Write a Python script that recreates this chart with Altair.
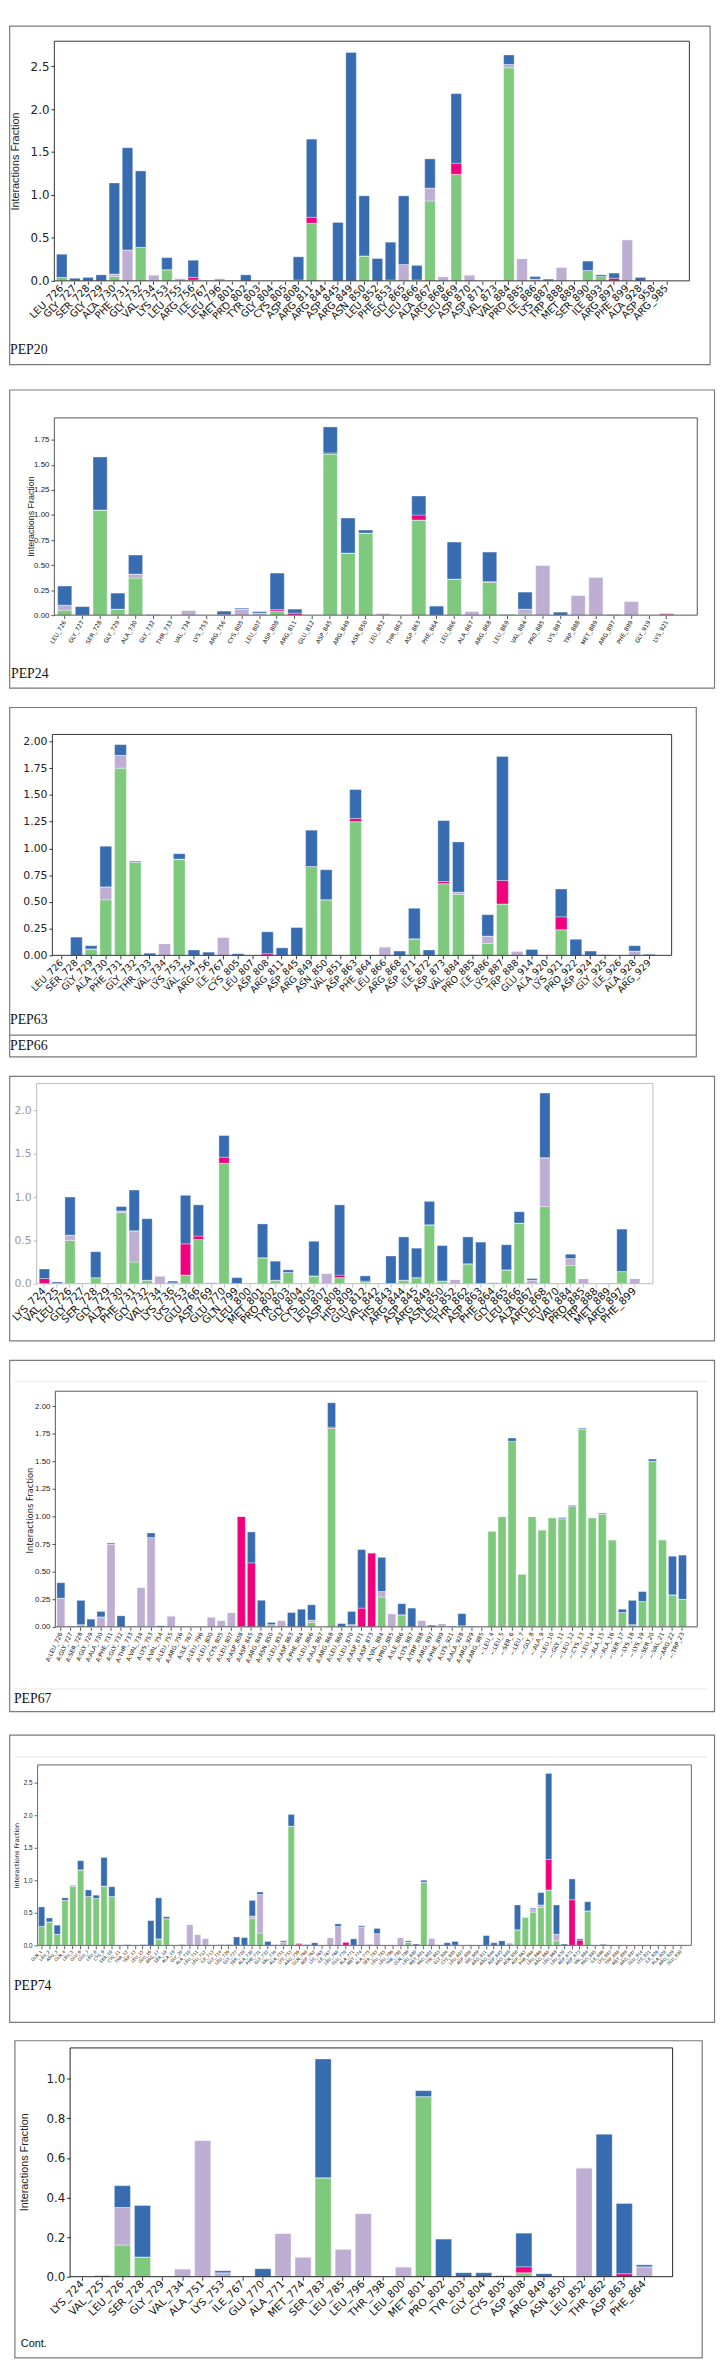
import altair as alt
import pandas as pd

# -----------------------------
# DATA (segment heights per interaction type)
# hb = H-bonds, hyd = hydrophobic, ion = ionic, wat = water bridges
# -----------------------------
pep20_res = ["LEU_726", "GLY_727", "SER_728", "GLY_729", "ALA_730", "PHE_731", "GLY_732", "VAL_734",
             "LYS_753", "LEU_755", "ARG_756", "ILE_767", "LEU_796", "MET_801", "PRO_802", "TYR_803",
             "GLY_804", "CYS_805", "ASP_808", "ARG_811", "ARG_844", "ASP_845", "ARG_849", "ASN_850",
             "LEU_852", "PHE_853", "GLY_865", "LEU_866", "ALA_867", "ARG_868", "LEU_869", "ASP_870",
             "ASP_871", "VAL_873", "VAL_884", "PRO_885", "ILE_886", "LYS_887", "TRP_888", "MET_889",
             "SER_890", "ILE_893", "ARG_897", "PHE_899", "ALA_928", "ASP_958", "ARG_985"]
pep20_hb = [0.04, 0, 0, 0, 0.05, 0, 0.39, 0, 0.13, 0, 0.01, 0, 0, 0, 0, 0, 0, 0, 0.01, 0.67, 0, 0, 0,
            0.29, 0, 0.01, 0, 0.01, 0.93, 0, 1.24, 0, 0, 0, 2.48, 0, 0, 0, 0, 0, 0.12, 0.05, 0, 0, 0, 0, 0]
pep20_hyd = [0, 0, 0, 0, 0.03, 0.36, 0, 0.07, 0, 0.03, 0, 0, 0.03, 0.01, 0, 0, 0, 0, 0, 0, 0, 0, 0,
             0, 0, 0, 0.19, 0, 0.15, 0.05, 0, 0.07, 0, 0, 0.04, 0.26, 0.02, 0, 0.16, 0.01, 0, 0, 0, 0.48, 0, 0, 0]
pep20_ion = [0, 0, 0, 0, 0, 0, 0, 0, 0, 0, 0.03, 0, 0, 0, 0, 0, 0, 0, 0, 0.07, 0, 0, 0,
             0, 0, 0, 0, 0, 0, 0, 0.13, 0, 0, 0, 0, 0, 0, 0, 0, 0, 0, 0, 0.03, 0, 0, 0, 0]
pep20_wat = [0.27, 0.03, 0.04, 0.07, 1.06, 1.19, 0.89, 0, 0.14, 0, 0.20, 0, 0, 0, 0.07, 0, 0, 0, 0.27,
             0.91, 0, 0.68, 2.66, 0.70, 0.26, 0.44, 0.80, 0.17, 0.34, 0, 0.81, 0, 0, 0, 0.11, 0, 0.03,
             0.02, 0, 0, 0.11, 0.02, 0.06, 0, 0.04, 0, 0]

pep24_res = ["LEU_726", "GLY_727", "SER_728", "GLY_729", "ALA_730", "GLY_732", "THR_733", "VAL_734",
             "LYS_753", "ARG_756", "CYS_805", "LEU_807", "ASP_808", "ARG_811", "GLU_812", "ASP_845",
             "ARG_849", "ASN_850", "LEU_852", "THR_862", "ASP_863", "PHE_864", "LEU_866", "ALA_867",
             "ARG_868", "LEU_869", "VAL_884", "PRO_885", "LYS_887", "TRP_888", "MET_889", "ARG_897",
             "PHE_899", "GLY_919", "LYS_921"]
pep24_hb = [0.05, 0, 1.05, 0.06, 0.37, 0, 0, 0, 0, 0, 0, 0, 0.04, 0, 0, 1.61, 0.62, 0.82, 0, 0, 0.95,
            0, 0.36, 0, 0.33, 0, 0.01, 0, 0, 0, 0, 0, 0, 0, 0]
pep24_hyd = [0.05, 0, 0, 0, 0.04, 0, 0, 0.05, 0, 0, 0.06, 0.02, 0, 0, 0, 0, 0, 0, 0.02, 0, 0,
             0, 0, 0.04, 0, 0, 0.05, 0.50, 0, 0.20, 0.38, 0, 0.14, 0, 0]
pep24_ion = [0, 0, 0, 0, 0, 0, 0, 0, 0, 0.005, 0, 0, 0.015, 0.02, 0, 0.01, 0, 0, 0, 0, 0.05,
             0, 0, 0, 0.005, 0, 0, 0, 0, 0, 0, 0, 0, 0, 0.01]
pep24_wat = [0.19, 0.085, 0.53, 0.16, 0.19, 0.005, 0, 0, 0, 0.035, 0.01, 0.015, 0.365, 0.04, 0, 0.26,
             0.35, 0.03, 0, 0, 0.19, 0.09, 0.37, 0, 0.295, 0.005, 0.17, 0, 0.03, 0, 0, 0.005, 0, 0, 0.005]

pep63_res = ["LEU_726", "SER_728", "GLY_729", "ALA_730", "PHE_731", "GLY_732", "THR_733", "VAL_734",
             "LYS_753", "VAL_754", "ARG_756", "ILE_767", "CYS_805", "LEU_807", "ASP_808", "ARG_811",
             "ASP_845", "ARG_849", "ASN_850", "VAL_851", "ASP_863", "PHE_864", "LEU_866", "ARG_868",
             "ASP_871", "ILE_872", "ASP_873", "VAL_884", "PRO_885", "ILE_886", "LYS_887", "TRP_888",
             "GLU_914", "ALA_920", "LYS_921", "PRO_922", "ASP_924", "GLY_925", "ILE_926", "ALA_928",
             "ARG_929"]
pep63_hb = [0, 0, 0.06, 0.52, 1.75, 0.87, 0, 0, 0.90, 0, 0, 0, 0, 0, 0, 0, 0, 0.83, 0.52, 0, 1.25,
            0, 0, 0, 0.15, 0, 0.67, 0.57, 0, 0.11, 0.48, 0, 0, 0, 0.24, 0, 0, 0, 0, 0, 0]
pep63_hyd = [0, 0, 0, 0.12, 0.12, 0, 0, 0.11, 0, 0, 0, 0.17, 0, 0, 0, 0, 0, 0, 0, 0, 0,
             0, 0.08, 0, 0, 0, 0, 0.02, 0, 0.07, 0, 0.04, 0, 0, 0, 0, 0, 0, 0, 0.04, 0]
pep63_ion = [0, 0, 0, 0, 0, 0, 0, 0, 0, 0, 0, 0, 0, 0, 0.015, 0, 0, 0, 0, 0, 0.03,
             0, 0, 0, 0.005, 0, 0.02, 0, 0, 0, 0.22, 0, 0, 0, 0.12, 0, 0, 0, 0, 0, 0]
pep63_wat = [0, 0.17, 0.03, 0.38, 0.10, 0.01, 0.02, 0, 0.05, 0.05, 0.03, 0, 0.015, 0, 0.205, 0.07,
             0.26, 0.34, 0.28, 0, 0.27, 0, 0, 0.04, 0.285, 0.05, 0.57, 0.47, 0.005, 0.20, 1.16, 0,
             0.055, 0, 0.26, 0.15, 0.04, 0.005, 0, 0.05, 0.01]

pep66_res = ["LYS_724", "VAL_725", "LEU_726", "GLY_727", "SER_728", "GLY_729", "ALA_730", "PHE_731",
             "GLY_732", "VAL_734", "LYS_736", "LYS_753", "GLU_766", "ASP_769", "GLU_770", "GLN_799",
             "LEU_800", "MET_801", "PRO_802", "TYR_803", "GLY_804", "CYS_805", "LEU_807", "ASP_808",
             "HIS_809", "GLU_812", "VAL_842", "HIS_843", "ARG_844", "ASP_845", "ARG_849", "ASN_850",
             "LEU_852", "THR_862", "ASP_863", "PHE_864", "GLY_865", "LEU_866", "ALA_867", "ARG_868",
             "LEU_870", "VAL_884", "PRO_885", "TRP_888", "MET_889", "ARG_897", "PHE_899"]
pep66_hb = [0, 0, 0.50, 0, 0.07, 0, 0.82, 0.25, 0.04, 0, 0, 0.10, 0.51, 0, 1.39, 0, 0, 0.30, 0.04,
            0.13, 0, 0.09, 0, 0.07, 0, 0.02, 0, 0, 0.04, 0.07, 0.68, 0.03, 0, 0.23, 0, 0, 0.16, 0.70,
            0, 0.89, 0, 0.21, 0, 0, 0, 0.14, 0]
pep66_hyd = [0, 0, 0.06, 0, 0, 0, 0.02, 0.36, 0, 0.09, 0, 0, 0, 0, 0, 0, 0, 0, 0, 0, 0, 0, 0.12, 0,
             0, 0, 0, 0, 0, 0, 0, 0, 0.05, 0, 0, 0, 0, 0, 0.04, 0.56, 0.01, 0.08, 0.06, 0, 0, 0, 0.06]
pep66_ion = [0.06, 0, 0, 0, 0, 0, 0, 0, 0, 0, 0.01, 0.36, 0.04, 0, 0.07, 0, 0, 0, 0, 0, 0, 0, 0, 0.03,
             0, 0.01, 0, 0, 0, 0, 0, 0, 0, 0, 0, 0, 0, 0, 0, 0.005, 0, 0, 0, 0, 0, 0, 0]
pep66_wat = [0.11, 0.02, 0.44, 0.005, 0.30, 0.005, 0.05, 0.47, 0.71, 0, 0.02, 0.56, 0.36, 0.01, 0.25,
             0.07, 0.005, 0.39, 0.22, 0.03, 0, 0.40, 0, 0.81, 0, 0.06, 0.005, 0.32, 0.50, 0.34, 0.27,
             0.41, 0, 0.31, 0.48, 0.01, 0.29, 0.13, 0.02, 0.745, 0, 0.05, 0, 0, 0.005, 0.49, 0]

pep67_res = ["A:LEU_726", "A:GLY_727", "A:SER_728", "A:GLY_729", "A:ALA_730", "A:PHE_731", "A:GLY_732",
             "A:THR_733", "A:VAL_734", "A:LYS_753", "A:VAL_754", "A:LEU_755", "A:ARG_756", "A:ILE_767",
             "A:LEU_796", "A:LEU_800", "A:CYS_805", "A:LEU_807", "A:ASP_808", "A:ASP_845", "A:ARG_849",
             "A:ASN_850", "A:LEU_852", "A:ASP_863", "A:PHE_864", "A:LEU_866", "A:ALA_867", "A:ARG_868",
             "A:LEU_869", "A:LEU_870", "A:ASP_871", "A:ASP_873", "A:VAL_884", "A:PRO_885", "A:ILE_886",
             "A:LYS_887", "A:TRP_888", "A:ARG_897", "A:PHE_899", "A:LYS_921", "A:ALA_928", "A:ARG_929",
             "A:ARG_985", "~:LEU_4", "~:LEU_5", "~:SER_6", "~:LEU_7", "~:GLY_8", "~:ALA_9", "~:LEU_10",
             "~:GLY_11", "~:LEU_12", "~:CYS_13", "~:LEU_14", "~:ALA_15", "~:ALA_16", "~:SER_17",
             "~:LYS_18", "~:LYS_19", "~:SER_20", "~:VAL_21", "~:ARG_22", "~:TRP_23"]
pep67_hb = [0, 0, 0.02, 0, 0, 0, 0, 0, 0, 0, 0, 0, 0, 0, 0, 0, 0, 0, 0, 0, 0, 0.02, 0, 0, 0, 0.04, 0,
            1.80, 0, 0, 0, 0, 0.27, 0, 0.11, 0, 0, 0, 0, 0, 0.01, 0, 0, 0.87, 1.00, 1.68, 0.48, 1.00,
            0.88, 0.99, 0.98, 1.09, 1.79, 0.99, 1.02, 0.79, 0.13, 0.02, 0.23, 1.50, 0.79, 0.29, 0.25]
pep67_hyd = [0.26, 0, 0, 0, 0.09, 0.75, 0, 0, 0.36, 0.81, 0, 0.10, 0, 0.003, 0.003, 0.09, 0.06, 0.13,
             0, 0, 0, 0, 0.06, 0, 0, 0.02, 0, 0, 0, 0.02, 0, 0, 0.05, 0.12, 0, 0, 0.06, 0, 0.03, 0, 0,
             0, 0, 0, 0, 0, 0, 0, 0, 0, 0, 0, 0, 0, 0, 0, 0, 0, 0, 0, 0, 0, 0]
pep67_ion = [0, 0, 0, 0, 0, 0, 0, 0, 0, 0, 0, 0, 0.005, 0, 0, 0, 0, 0, 1.00, 0.58, 0, 0, 0, 0, 0, 0, 0,
             0.01, 0, 0, 0.17, 0.67, 0, 0, 0, 0, 0, 0, 0, 0, 0, 0, 0, 0, 0, 0, 0, 0, 0, 0, 0, 0, 0, 0,
             0, 0, 0, 0, 0, 0, 0, 0, 0]
pep67_wat = [0.14, 0.005, 0.22, 0.07, 0.05, 0.01, 0.10, 0.005, 0, 0.04, 0.01, 0, 0, 0, 0, 0, 0, 0, 0,
             0.28, 0.24, 0.02, 0, 0.13, 0.16, 0.14, 0, 0.22, 0.03, 0.12, 0.53, 0, 0.31, 0, 0.10, 0.17,
             0, 0.015, 0, 0.005, 0.11, 0.005, 0, 0, 0, 0.03, 0, 0, 0, 0, 0.01, 0.01, 0.01, 0, 0.01, 0,
             0.03, 0.22, 0.09, 0.02, 0, 0.35, 0.40]

pep74_res = ["GLN_1", "LEU_2", "ARG_3", "GLN_4", "LEU_5", "GLU_6", "GLU_7", "LEU_8", "CYS_9", "SER_10",
             "CYS_11", "THR_12", "TRP_13", "LEU_15", "GLU_16", "ARG_17", "SER_18", "ALA_19", "GLY_20",
             "ALA_710", "LEU_711", "LEU_712", "ILE_713", "GLY_714", "LEU_726", "GLY_727", "SER_728",
             "ALA_730", "PHE_731", "GLY_732", "VAL_734", "ALA_751", "LYS_753", "ARG_756", "GLN_760",
             "ASP_762", "LYS_765", "ILE_767", "LEU_768", "GLU_770", "ALA_771", "MET_774", "ALA_775",
             "SER_783", "LEU_785", "LEU_796", "THR_798", "GLN_799", "LEU_800", "MET_801", "PRO_802",
             "TYR_803", "GLY_804", "CYS_805", "LEU_807", "ASP_808", "HIS_809", "ARG_811", "ARG_844",
             "ASP_845", "ARG_849", "ASN_850", "ASP_863", "PHE_864", "LEU_866", "ARG_868", "LEU_869",
             "LEU_870", "ASP_871", "ASP_873", "VAL_884", "PRO_885", "ILE_886", "LYS_887", "TRP_888",
             "MET_889", "ARG_897", "GLU_914", "LYS_921", "ILE_926", "ALA_928", "ARG_929", "GLU_930"]
pep74_hb = [0.29, 0.36, 0.17, 0.69, 0.91, 1.16, 0.75, 0.72, 0.91, 0.75, 0.005, 0, 0, 0, 0, 0.10, 0.41,
            0.005, 0, 0, 0, 0, 0, 0, 0, 0, 0, 0.41, 0.19, 0, 0, 0, 1.83, 0, 0, 0, 0, 0, 0, 0, 0, 0, 0,
            0, 0, 0, 0, 0.05, 0, 0.97, 0, 0, 0, 0.005, 0, 0, 0, 0, 0, 0, 0, 0.24, 0.43, 0.51, 0.58,
            0.85, 0.07, 0, 0, 0, 0.53, 0, 0, 0, 0, 0, 0, 0, 0, 0.005, 0, 0, 0.005]
pep74_hyd = [0, 0, 0, 0, 0, 0, 0, 0, 0, 0, 0, 0, 0, 0, 0, 0, 0, 0, 0, 0.32, 0.17, 0.11, 0.01, 0.005,
             0, 0, 0, 0.04, 0.59, 0, 0.02, 0.05, 0, 0, 0, 0, 0, 0.12, 0.29, 0, 0, 0.28, 0, 0.18, 0, 0,
             0.12, 0, 0, 0, 0.11, 0.01, 0, 0, 0, 0, 0, 0, 0, 0, 0.04, 0, 0.01, 0.04, 0.04, 0, 0.10, 0,
             0, 0, 0, 0, 0.01, 0, 0, 0, 0, 0, 0, 0, 0, 0, 0]
pep74_ion = [0, 0, 0, 0, 0, 0, 0, 0, 0, 0, 0, 0, 0, 0, 0, 0, 0, 0, 0, 0, 0, 0, 0, 0, 0, 0, 0, 0, 0,
             0, 0, 0, 0, 0.02, 0, 0, 0, 0, 0, 0.05, 0, 0, 0, 0, 0, 0, 0, 0, 0, 0, 0, 0, 0, 0, 0, 0, 0,
             0, 0, 0, 0, 0, 0, 0, 0, 0.47, 0, 0, 0.70, 0.08, 0, 0, 0, 0, 0, 0, 0, 0, 0, 0, 0, 0, 0]
pep74_wat = [0.30, 0.06, 0.14, 0.04, 0.01, 0.14, 0.10, 0.05, 0.44, 0.15, 0, 0.01, 0, 0.01, 0.38, 0.63,
             0.03, 0, 0.01, 0, 0, 0, 0, 0.005, 0.01, 0.13, 0.12, 0.24, 0.04, 0.06, 0, 0.02, 0.18, 0.01,
             0.01, 0.04, 0, 0, 0.04, 0, 0.10, 0.02, 0.01, 0.08, 0, 0.005, 0, 0.02, 0.02, 0.03, 0, 0,
             0.04, 0.055, 0, 0.005, 0.005, 0.15, 0.04, 0.07, 0, 0.38, 0, 0.02, 0.19, 1.32, 0.45, 0.02,
             0.32, 0.02, 0.14, 0, 0.01, 0.005, 0.005, 0, 0, 0, 0, 0, 0.005, 0, 0]

cont_res = ["LYS_724", "VAL_725", "LEU_726", "SER_728", "GLY_729", "VAL_734", "ALA_751", "LYS_753",
            "ILE_767", "GLU_770", "ALA_771", "MET_774", "SER_783", "LEU_785", "LEU_796", "THR_798",
            "LEU_800", "MET_801", "PRO_802", "TYR_803", "GLY_804", "CYS_805", "ASP_808", "ARG_849",
            "ASN_850", "LEU_852", "THR_862", "ASP_863", "PHE_864"]
cont_hb = [0, 0, 0.16, 0.10, 0, 0, 0, 0, 0, 0, 0, 0, 0.50, 0, 0, 0, 0, 0.91, 0, 0, 0, 0, 0.02, 0, 0,
           0, 0, 0, 0]
cont_hyd = [0, 0, 0.19, 0, 0, 0.04, 0.69, 0.02, 0, 0, 0.22, 0.10, 0, 0.14, 0.32, 0, 0.05, 0, 0, 0, 0,
            0, 0, 0, 0, 0.55, 0, 0, 0.05]
cont_ion = [0, 0, 0, 0, 0, 0, 0, 0, 0, 0, 0, 0, 0, 0, 0, 0, 0, 0, 0, 0, 0, 0, 0.03, 0, 0, 0, 0, 0.015, 0]
cont_wat = [0, 0.005, 0.11, 0.26, 0, 0, 0, 0.01, 0.002, 0.04, 0, 0, 0.60, 0, 0, 0.002, 0, 0.03, 0.19,
            0.02, 0.02, 0.005, 0.17, 0.015, 0, 0, 0.72, 0.355, 0.01]

KINDS = ["hb", "hyd", "ion", "wat"]
COLORS = ["#7fc97f", "#beaed4", "#f0027f", "#386cb0"]

NARROW = "Liberation Sans Narrow, Arial Narrow, Liberation Sans"
SANS = "DejaVu Sans"
SERIF = "Liberation Serif"

PAGE_W = 717  # drawable width inside the 8px page margin


# -----------------------------
# PANEL LAYOUT (reference pixel coordinates)
# -----------------------------
PANELS = [
    dict(series=(pep20_res, pep20_hb, pep20_hyd, pep20_ion, pep20_wat),
         slot=(8, 375), frame=(8.7, 8.7, 719, 352), plot=(54, 24, 698, 267), centers=(61.5, 675),
         ymax=2.79, ticks=[0, 0.5, 1.0, 1.5, 2.0, 2.5], fmt=".1f",
         yfont=SANS, ysize=12, ycolor="#222", xfont=SANS, xsize=10, xangle=315,
         view="#333", names=[("PEP20", 9, 337)], namesize=14, namefont=SERIF,
         ytitle=(15, 146, 11, NARROW)),
    dict(series=(pep24_res, pep24_hb, pep24_hyd, pep24_ion, pep24_wat),
         slot=(375, 695), frame=(8.7, 375.7, 723.5, 678), plot=(54, 404, 706, 604), centers=(64.5, 675),
         ymax=1.97, ticks=[0, 0.25, 0.5, 0.75, 1.0, 1.25, 1.5, 1.75], fmt=".2f",
         yfont=NARROW, ysize=8, ycolor="#222", xfont=SANS, xsize=6, xangle=300,
         view="#555", names=[("PEP24", 10, 664)], namesize=14, namefont=SERIF,
         ytitle=(30, 504, 9, NARROW)),
    dict(series=(pep63_res, pep63_hb, pep63_hyd, pep63_ion, pep63_wat),
         slot=(695, 1067), frame=(8.7, 695.7, 705, 1050), plot=(52, 723, 680, 947), centers=(61.5, 657.4),
         ymax=2.065, ticks=[0, 0.25, 0.5, 0.75, 1.0, 1.25, 1.5, 1.75, 2.0], fmt=".2f",
         yfont=SANS, ysize=11, ycolor="#222", xfont=SANS, xsize=9.5, xangle=315,
         view="#333", names=[("PEP63", 9, 1013), ("PEP66", 9, 1039)], namesize=14, namefont=SERIF,
         divider=1028, ytitle=None),
    dict(series=(pep66_res, pep66_hb, pep66_hyd, pep66_ion, pep66_wat),
         slot=(1067, 1353), frame=(8.7, 1067.7, 723.5, 1336), plot=(36, 1075, 661, 1278), centers=(43.9, 642.6),
         ymax=2.31, ticks=[0, 0.5, 1.0, 1.5, 2.0], fmt=".1f",
         yfont=SANS, ysize=11, ycolor="#999", xfont=SANS, xsize=10.5, xangle=315,
         view="#bbb", names=[], namesize=14, namefont=SERIF, ytitle=None),
    dict(series=(pep67_res, pep67_hb, pep67_hyd, pep67_ion, pep67_wat),
         slot=(1353, 1731), frame=(8.7, 1353.7, 723.5, 1710), plot=(55, 1385, 706, 1624), centers=(60.6, 691),
         ymax=2.135, ticks=[0, 0.25, 0.5, 0.75, 1.0, 1.25, 1.5, 1.75, 2.0], fmt=".2f",
         yfont=NARROW, ysize=8, ycolor="#222", xfont=SANS, xsize=6, xangle=295,
         view="#555", names=[("PEP67", 13, 1697)], namesize=14, namefont=SERIF,
         faint=[1375, 1687], ytitle=(29, 1506, 8.5, SANS)),
    dict(series=(pep74_res, pep74_hb, pep74_hyd, pep74_ion, pep74_wat),
         slot=(1731, 2039), frame=(8.7, 1731.7, 723.5, 2023), plot=(37, 1762, 700, 1945), centers=(41.1, 689.8),
         ymax=2.77, ticks=[0, 0.5, 1.0, 1.5, 2.0, 2.5], fmt=".1f",
         yfont=NARROW, ysize=6.5, ycolor="#222", xfont=SANS, xsize=4.3, xangle=315,
         view="#666", names=[("PEP74", 13, 1986)], namesize=14, namefont=SERIF,
         faint=[1754], ytitle=(16, 1854, 6.5, SANS)),
    dict(series=(cont_res, cont_hb, cont_hyd, cont_ion, cont_wat),
         slot=(2039, 2362), frame=(14, 2039.7, 711, 2361.3), plot=(70, 2047, 681, 2279), centers=(82.3, 652.3),
         ymax=1.156, ticks=[0, 0.2, 0.4, 0.6, 0.8, 1.0], fmt=".1f",
         yfont=SANS, ysize=12, ycolor="#222", xfont=SANS, xsize=10.5, xangle=315,
         view="#222", names=[("Cont.", 20, 2347)], namesize=11, namefont=NARROW,
         ytitle=(24, 2163, 11, NARROW)),
]


def _long_table(res, hb, hyd, ion, wat):
    rows = []
    for i, r in enumerate(res):
        for k, vals in enumerate([hb, hyd, ion, wat]):
            rows.append({"res": r, "kind": KINDS[k], "k": k, "val": vals[i]})
    return pd.DataFrame(rows)


def _panel(p):
    res, hb, hyd, ion, wat = p["series"]
    s0, s1 = p["slot"]
    L, T, R, B = p["plot"]
    W = R - L
    n = len(res)
    c1, cn = p["centers"]
    step = (cn - c1) / (n - 1)
    outer = W - (n - 0.2) * step
    po = max(outer, 0.01) / (2 * step)
    align = min(max(((c1 - L) - 0.4 * step) / max(outer, 0.01), 0), 1)

    # every panel's view is the whole slot; plot area placed through scale ranges
    def cx(x):
        return x - 8

    def cy(y):
        return y - s0

    df = _long_table(res, hb, hyd, ion, wat)
    bars = alt.Chart(df).mark_bar(stroke="white", strokeWidth=0.35).encode(
        x=alt.X("res:N", sort=res,
                scale=alt.Scale(range=[cx(L), cx(R)], paddingInner=0.2, paddingOuter=po, align=align),
                axis=alt.Axis(title=None, labelAngle=p["xangle"], labelAlign="right",
                              labelBaseline="middle", labelFont=p["xfont"],
                              labelFontSize=p["xsize"], labelColor="#111",
                              labelOverlap=False, labelLimit=0, labelPadding=2,
                              tickSize=3.5, tickColor=p["view"], domain=False, grid=False,
                              offset=-(s1 - B))),
        y=alt.Y("val:Q", stack="zero",
                scale=alt.Scale(domain=[0, p["ymax"]], nice=False, range=[cy(B), cy(T)]),
                axis=alt.Axis(title=None, values=p["ticks"], format=p["fmt"],
                              labelFont=p["yfont"], labelFontSize=p["ysize"],
                              labelColor=p["ycolor"], tickSize=3.5, tickColor=p["view"],
                              labelPadding=2, domain=False, grid=False, offset=-cx(L))),
        color=alt.Color("kind:N", scale=alt.Scale(domain=KINDS, range=COLORS), legend=None),
        order=alt.Order("k:Q", sort="ascending"),
    )

    one = alt.Chart(pd.DataFrame({"z": [0]}))
    fx1, fy1, fx2, fy2 = p["frame"]
    layers = [one.mark_rect(fillOpacity=0, stroke="#7a7a7a", strokeWidth=1.2).encode(
        x=alt.value(cx(fx1)), x2=alt.value(cx(fx2)), y=alt.value(cy(fy1)), y2=alt.value(cy(fy2)))]

    for fy in p.get("faint", []):
        layers.append(one.mark_rule(color="#e6e6e6", strokeWidth=1).encode(
            x=alt.value(cx(14)), x2=alt.value(cx(716)), y=alt.value(cy(fy))))
    if "divider" in p:
        layers.append(one.mark_rule(color="#7a7a7a", strokeWidth=1.2).encode(
            x=alt.value(cx(fx1)), x2=alt.value(cx(fx2)), y=alt.value(cy(p["divider"]))))

    layers.append(bars)

    # plot-area frame (spines)
    layers.append(one.mark_rect(fillOpacity=0, stroke=p["view"], strokeWidth=1).encode(
        x=alt.value(cx(L)), x2=alt.value(cx(R)), y=alt.value(cy(T)), y2=alt.value(cy(B))))

    for label, nx, ny in p["names"]:
        layers.append(one.mark_text(align="left", baseline="middle", font=p["namefont"],
                                    fontSize=p["namesize"], color="#111").encode(
            x=alt.value(cx(nx)), y=alt.value(cy(ny)), text=alt.value(label)))

    if p["ytitle"]:
        tx, ty, tsize, tfont = p["ytitle"]
        layers.append(one.mark_text(angle=270, align="center", baseline="middle",
                                    font=tfont, fontSize=tsize, color="#222").encode(
            x=alt.value(cx(tx)), y=alt.value(cy(ty)), text=alt.value("Interactions Fraction")))

    return alt.layer(*layers).properties(
        width=PAGE_W, height=s1 - s0,
        view=alt.ViewBackground(stroke="transparent"),
    )


chart = alt.vconcat(*[_panel(p) for p in PANELS], spacing=0).properties(
    padding=0,
).configure(background="white")

chart.save("out.html", embed_options={"renderer": "svg", "actions": False})
